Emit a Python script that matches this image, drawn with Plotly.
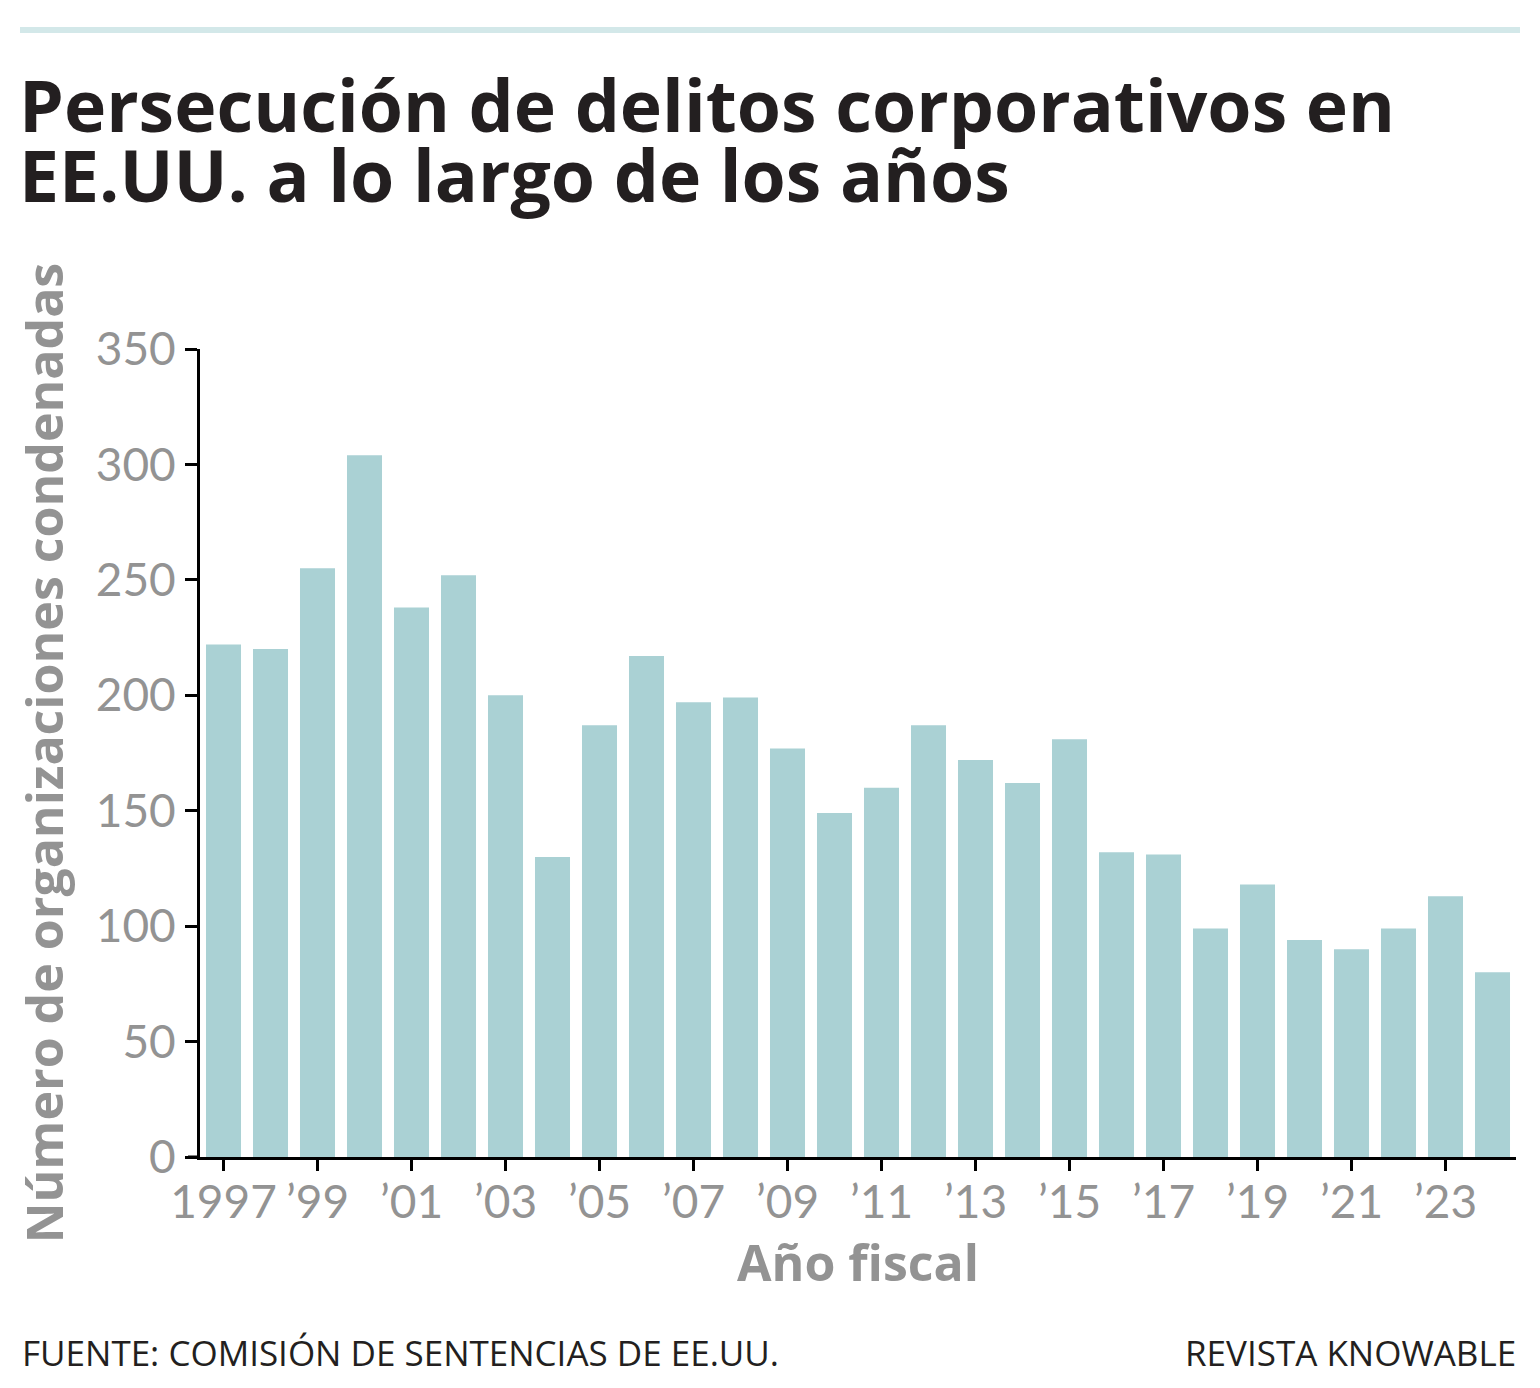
import plotly.graph_objects as go

years = list(range(1997, 2025))
convictions = [222, 220, 255, 304, 238, 252, 200, 130, 187, 217, 197, 199, 177, 149,
               160, 187, 172, 162, 181, 132, 131, 99, 118, 94, 90, 99, 113, 80]
tick_years = list(range(1997, 2024, 2))
tick_labels = ["1997"] + ["\u2019" + str(y)[2:] for y in tick_years[1:]]
y_ticks = [0, 50, 100, 150, 200, 250, 300, 350]

title_1 = "Persecución de delitos corporativos en"
title_2 = "EE.UU. a lo largo de los años"
y_title = "Número de organizaciones condenadas"
x_title = "Año fiscal"
source = "FUENTE: COMISIÓN DE SENTENCIAS DE EE.UU."
credit = "REVISTA KNOWABLE"

W, H = 1540, 1388
L, R, T, B = 200, 24, 349, 231
PH = H - T - B


def py(px):
    return (H - B - px) / PH


def pxx(px):
    return (px - L) / (W - L - R)


BAR = "#aad1d4"
GRAY = "#939393"
DARK = "#231f20"
TICKFONT = "Lato"
TXTFONT = "Open Sans"

fig = go.Figure(go.Bar(x=years, y=convictions, marker_color=BAR, marker_line_width=0))

fig.update_layout(
    width=W, height=H,
    margin=dict(l=L, r=R, t=T, b=B, pad=0),
    plot_bgcolor="white", paper_bgcolor="white",
    bargap=0.255, showlegend=False,
    font=dict(family=TICKFONT, color=GRAY),
)
fig.update_xaxes(
    range=[1996.5, 2024.5], tickvals=tick_years, ticktext=tick_labels,
    showgrid=False, zeroline=False, showline=True, linecolor="black", linewidth=3,
    ticks="outside", ticklen=11, tickwidth=3, tickcolor="black",
    tickfont=dict(family=TICKFONT, size=46, color=GRAY),
    ticklabelstandoff=-8,
    title=dict(text="<b>" + x_title + "</b>", font=dict(family=TXTFONT, size=50, color=GRAY), standoff=3),
)
fig.update_yaxes(
    range=[0, 350], tickvals=y_ticks,
    showgrid=False, zeroline=False, showline=True, linecolor="black", linewidth=3,
    ticks="outside", ticklen=12, tickwidth=3, tickcolor="black",
    tickfont=dict(family=TICKFONT, size=46, color=GRAY),
    title=dict(text="<b>" + y_title + "</b>", font=dict(family=TXTFONT, size=50, color=GRAY), standoff=17),
)

shapes = [
    dict(type="line", xref="paper", yref="paper", x0=pxx(20), x1=pxx(1520), y0=py(30), y1=py(30),
         line=dict(color="#d3e8e9", width=6)),
    dict(type="line", xref="paper", yref="paper", x0=pxx(188), x1=pxx(200), y0=py(1157), y1=py(1157),
         line=dict(color="black", width=3)),
]
fig.update_layout(shapes=shapes)

ann = [
    dict(text="<b>" + title_1 + "</b>", x=pxx(17), y=py(54), xanchor="left", yanchor="top",
         font=dict(family=TXTFONT, size=71.5, color=DARK)),
    dict(text="<b>" + title_2 + "</b>", x=pxx(17), y=py(124), xanchor="left", yanchor="top",
         font=dict(family=TXTFONT, size=71.5, color=DARK)),
    dict(text=source, x=pxx(20), y=py(1352), xanchor="left", yanchor="middle",
         font=dict(family=TXTFONT, size=35, color=DARK)),
    dict(text=credit, x=pxx(1518), y=py(1352), xanchor="right", yanchor="middle",
         font=dict(family=TXTFONT, size=35, color=DARK)),
]
for a in ann:
    a.update(xref="paper", yref="paper", showarrow=False)
fig.update_layout(annotations=ann)

fig.write_html("out.html")
